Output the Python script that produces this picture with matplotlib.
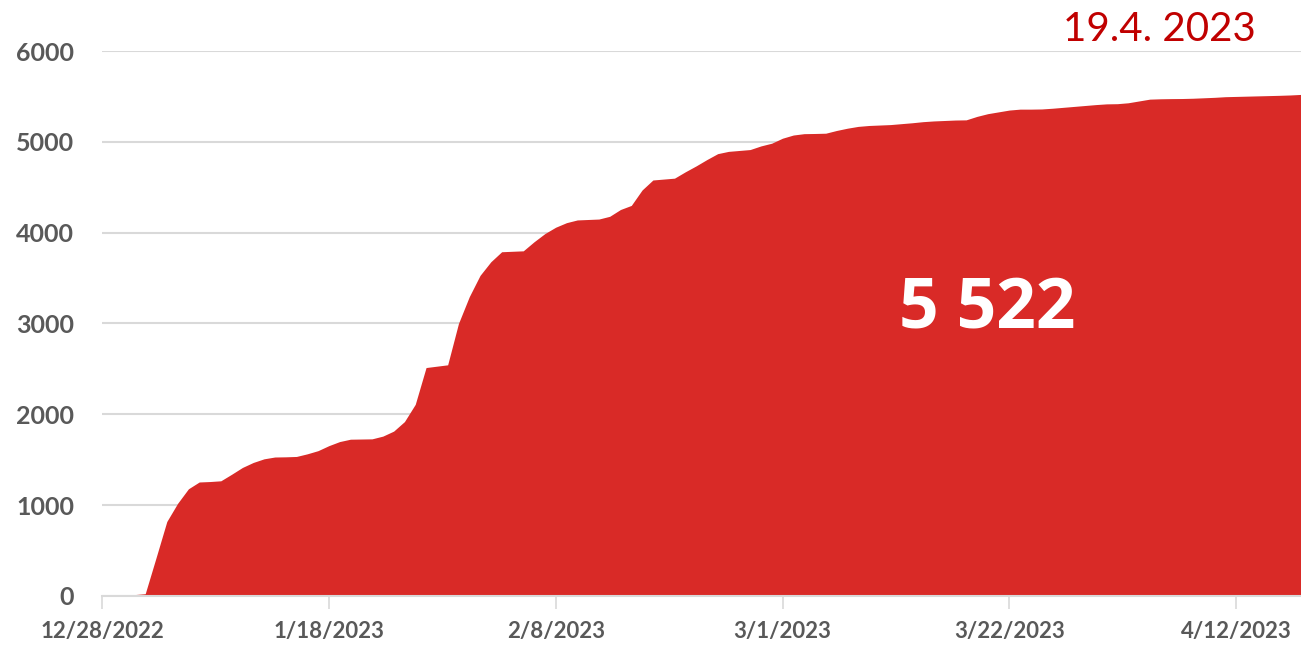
import datetime as dt
import matplotlib
matplotlib.use("Agg")
import matplotlib.pyplot as plt

START = dt.date(2022, 12, 28)

# kumulativni pocet, jedna hodnota na den od 28.12.2022
hodnoty = [
    0, 5, 10, 15, 25, 420, 820, 1020, 1180, 1255,
    1260, 1268, 1340, 1415, 1470, 1510, 1530, 1532, 1536, 1565,
    1600, 1655, 1700, 1726, 1728, 1730, 1760, 1815, 1920, 2110,
    2515, 2530, 2545, 3000, 3295, 3530, 3680, 3790, 3795, 3800,
    3900, 3990, 4060, 4110, 4140, 4145, 4150, 4180, 4255, 4300,
    4470, 4580, 4590, 4600, 4670, 4735, 4805, 4870, 4895, 4905,
    4915, 4955, 4985, 5040, 5075, 5090, 5092, 5095, 5125, 5150,
    5170, 5180, 5185, 5190, 5200, 5210, 5222, 5230, 5235, 5240,
    5242, 5280, 5310, 5330, 5350, 5360, 5360, 5362, 5370, 5380,
    5390, 5400, 5410, 5418, 5420, 5430, 5450, 5470, 5474, 5476,
    5477, 5480, 5485, 5490, 5497, 5500, 5503, 5506, 5509, 5512,
    5516, 5522,
]
datumy = [START + dt.timedelta(days=i) for i in range(len(hodnoty))]

tick_datumy = [dt.date(2022, 12, 28), dt.date(2023, 1, 18), dt.date(2023, 2, 8),
               dt.date(2023, 3, 1), dt.date(2023, 3, 22), dt.date(2023, 4, 12)]
y_ticks = [0, 1000, 2000, 3000, 4000, 5000, 6000]

celkem_text = "5 522"
datum_text = "19.4. 2023"

CERVENA = "#D92A27"
SEDA = "#595959"

plt.rcParams["font.family"] = ["Lato", "DejaVu Sans"]

fig = plt.figure(figsize=(13.01, 6.49), dpi=100)
ax = fig.add_axes([0.0784, 0.0817, 0.9216, 0.8397])

ax.fill_between(datumy, hodnoty, 0, color=CERVENA, linewidth=0, zorder=2)

ax.set_xlim(datumy[0], datumy[-1])
ax.set_ylim(0, 6000)

ax.set_yticks(y_ticks)
ax.set_yticklabels([str(v) for v in y_ticks], fontsize=18, fontweight="bold", color=SEDA)
ax.yaxis.grid(True, color="#D9D9D9", linewidth=1.5, zorder=0)
ax.set_axisbelow(True)
ax.tick_params(axis="y", length=0, pad=20)

ax.set_xticks(tick_datumy)
ax.set_xticklabels([f"{d.month}/{d.day}/{d.year}" for d in tick_datumy],
                   fontsize=16, fontweight="bold", color=SEDA)
ax.tick_params(axis="x", length=9, width=1.2, color="#D9D9D9", pad=9)

for s in ["top", "right", "left"]:
    ax.spines[s].set_visible(False)
ax.spines["bottom"].set_color("#D9D9D9")
ax.spines["bottom"].set_linewidth(1.5)
ax.spines["bottom"].set_zorder(3)

ax.text(dt.date(2023, 3, 20), 3150, celkem_text, color="white", fontsize=50,
        fontweight="bold", family=["Open Sans", "DejaVu Sans"],
        ha="center", va="center", zorder=4)
fig.text(0.891, 0.955, datum_text, color="#C00000", fontsize=29,
         ha="center", va="center")

fig.savefig("out.png", dpi=100)
